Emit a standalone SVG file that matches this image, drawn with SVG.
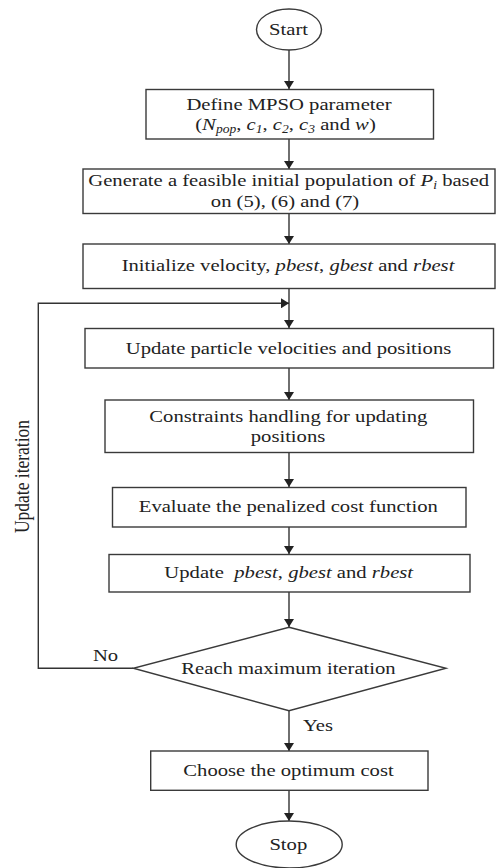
<svg xmlns="http://www.w3.org/2000/svg" width="498" height="868" viewBox="0 0 498 868">
<style>
.box{fill:#fff;stroke:#3a3a3a;stroke-width:1.4}
.t{font-family:"Liberation Serif","Times New Roman",serif;font-size:17.5px;fill:#222;text-anchor:middle}
.i{font-style:italic}
.sub{font-size:11.5px;font-style:italic}
.c{fill:none;stroke:#333;stroke-width:1.4}
</style>
<defs>
<marker id="ah" markerUnits="userSpaceOnUse" viewBox="0 0 8 10" markerWidth="8" markerHeight="10" refX="8" refY="5" orient="auto">
<path d="M0,0 L8,5 L0,10 z" fill="#222"/>
</marker>
</defs>
<rect width="498" height="868" fill="#fff"/>
<g id="connectors">
<path class="c" d="M289,50 V89" marker-end="url(#ah)"/>
<path class="c" d="M289,139 V169" marker-end="url(#ah)"/>
<path class="c" d="M289,213 V244" marker-end="url(#ah)"/>
<path class="c" d="M289,288 V328" marker-end="url(#ah)"/>
<path class="c" d="M289,368 V400" marker-end="url(#ah)"/>
<path class="c" d="M289,452.5 V487" marker-end="url(#ah)"/>
<path class="c" d="M289,527 V554" marker-end="url(#ah)"/>
<path class="c" d="M289,592 V627" marker-end="url(#ah)"/>
<path class="c" d="M289,711 V751" marker-end="url(#ah)"/>
<path class="c" d="M289,790 V821" marker-end="url(#ah)"/>
<path class="c" d="M133.3,668.3 H38.3 V303.3 H289" marker-end="url(#ah)"/>
<text class="t" transform="translate(105.5,660.7) scale(1.18,1)">No</text>
<text class="t" transform="translate(318,730.7) scale(1.18,1)">Yes</text>
<text class="t" transform="translate(28.5,476.5) scale(1.18,1) rotate(-90)">Update iteration</text>
</g>
<g id="start">
<ellipse class="box" cx="289" cy="29.5" rx="32.5" ry="20.5"/>
<text class="t" transform="translate(288.5,35) scale(1.18,1)">Start</text>
</g>
<g id="define">
<rect class="box" x="146" y="89.5" width="287.5" height="49.5"/>
<text class="t" transform="translate(289,110) scale(1.18,1)">Define MPSO parameter</text>
<text class="t" transform="translate(285.5,129.5) scale(1.18,1)">(<tspan class="i">N</tspan><tspan class="sub" dy="3.5">pop</tspan><tspan dy="-3.5">, </tspan><tspan class="i">c</tspan><tspan class="sub" dy="3.5">1</tspan><tspan dy="-3.5">, </tspan><tspan class="i">c</tspan><tspan class="sub" dy="3.5">2</tspan><tspan dy="-3.5">, </tspan><tspan class="i">c</tspan><tspan class="sub" dy="3.5">3</tspan><tspan dy="-3.5"> and </tspan><tspan class="i">w</tspan>)</text>
</g>
<g id="generate">
<rect class="box" x="83" y="169" width="412" height="44.5"/>
<text class="t" transform="translate(288.7,185.5) scale(1.18,1)">Generate a feasible initial population of <tspan class="i">P</tspan><tspan class="sub" dy="3">i</tspan><tspan dy="-3"> based</tspan></text>
<text class="t" transform="translate(285,207) scale(1.18,1)">on (5), (6) and (7)</text>
</g>
<g id="initialize">
<rect class="box" x="83" y="244" width="412" height="44.5"/>
<text class="t" transform="translate(288,271) scale(1.18,1)">Initialize velocity, <tspan class="i">pbest</tspan>, <tspan class="i">gbest</tspan> and <tspan class="i">rbest</tspan></text>
</g>
<g id="update-velocities">
<rect class="box" x="85" y="328.5" width="408.5" height="39.5"/>
<text class="t" transform="translate(288.5,353.5) scale(1.18,1)">Update particle velocities and positions</text>
</g>
<g id="constraints">
<rect class="box" x="105" y="400" width="368.5" height="52.5"/>
<text class="t" transform="translate(288.3,421.7) scale(1.18,1)">Constraints handling for updating</text>
<text class="t" transform="translate(288,441.7) scale(1.18,1)">positions</text>
</g>
<g id="evaluate">
<rect class="box" x="112.5" y="487.5" width="353.5" height="39.5"/>
<text class="t" transform="translate(288.3,512) scale(1.18,1)">Evaluate the penalized cost function</text>
</g>
<g id="update-best">
<rect class="box" x="109" y="554.5" width="361" height="37.5"/>
<text class="t" transform="translate(288.7,578) scale(1.18,1)" xml:space="preserve">Update  <tspan class="i">pbest</tspan>, <tspan class="i">gbest</tspan> and <tspan class="i">rbest</tspan></text>
</g>
<g id="decision">
<polygon class="box" points="289,627.3 446,668.3 289,710.7 133.3,668.3"/>
<text class="t" transform="translate(288.5,673.5) scale(1.18,1)">Reach maximum iteration</text>
</g>
<g id="choose">
<rect class="box" x="150.7" y="751" width="277.3" height="39.3"/>
<text class="t" transform="translate(288.5,776) scale(1.18,1)">Choose the optimum cost</text>
</g>
<g id="stop">
<ellipse class="box" cx="289.2" cy="844.5" rx="53" ry="23.5"/>
<text class="t" transform="translate(288.3,850) scale(1.18,1)">Stop</text>
</g>
</svg>
